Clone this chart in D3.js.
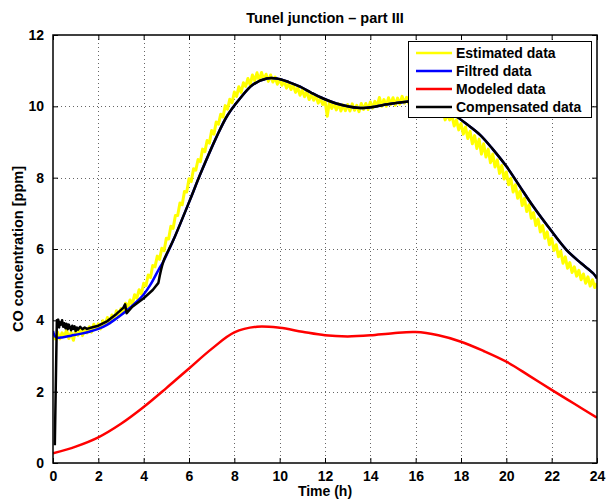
<!DOCTYPE html>
<html>
<head>
<meta charset="utf-8">
<script src="https://cdn.jsdelivr.net/npm/d3@7"></script>
<style>
  html, body { margin: 0; padding: 0; background: #fff; }
  svg { display: block; font-family: "Liberation Sans", Arial, sans-serif; }
</style>
</head>
<body>
<svg id="chart" width="606" height="499"></svg>
<script>
// Estimated CO concentration, sampled every 0.1 h from 0 h to 24 h
const estimatedStep = 0.1;
const estimated = [
  3.60, 3.48, 3.67, 3.48, 3.65, 3.55, 3.73, 3.49, 3.66, 3.44,
  3.73, 3.58, 3.78, 3.57, 3.77, 3.65, 3.82, 3.67, 3.89, 3.76,
  3.90, 3.76, 3.99, 3.88, 4.08, 3.92, 4.15, 4.04, 4.27, 4.10,
  4.33, 4.20, 4.48, 4.36, 4.57, 4.44, 4.72, 4.62, 4.86, 4.74,
  5.04, 4.97, 5.27, 5.20, 5.54, 5.50, 5.80, 5.71, 6.02, 5.95,
  6.30, 6.28, 6.64, 6.58, 6.94, 6.94, 7.29, 7.24, 7.61, 7.60,
  7.97, 7.89, 8.25, 8.21, 8.51, 8.45, 8.80, 8.73, 9.04, 8.97,
  9.32, 9.22, 9.56, 9.50, 9.78, 9.70, 10.02, 9.92, 10.20, 10.10,
  10.40, 10.28, 10.55, 10.39, 10.66, 10.56, 10.78, 10.60, 10.88, 10.72,
  10.94, 10.72, 10.95, 10.75, 10.90, 10.70, 10.88, 10.68, 10.82, 10.62,
  10.76, 10.59, 10.72, 10.51, 10.64, 10.47, 10.60, 10.39, 10.52, 10.31,
  10.46, 10.27, 10.42, 10.19, 10.34, 10.17, 10.30, 10.09, 10.22, 10.05,
  10.16, 9.72, 10.14, 9.94, 10.08, 9.90, 10.07, 9.87, 10.04, 9.88,
  10.05, 9.87, 10.07, 9.89, 10.03, 9.85, 10.08, 9.91, 10.08, 9.91,
  10.12, 9.95, 10.14, 10.00, 10.25, 10.00, 10.19, 10.00, 10.24, 10.05,
  10.24, 10.03, 10.23, 10.06, 10.28, 10.09, 10.25, 10.07, 10.25, 10.05,
  10.23, 10.04, 10.21, 10.01, 10.16, 9.96, 10.11, 9.90, 10.04, 9.81,
  9.96, 9.75, 9.88, 9.62, 9.77, 9.62, 9.74, 9.45, 9.62, 9.34,
  9.52, 9.22, 9.42, 9.10, 9.30, 8.95, 9.18, 8.82, 9.08, 8.66,
  8.95, 8.58, 8.80, 8.42, 8.66, 8.30, 8.50, 8.12, 8.34, 7.96,
  8.16, 7.80, 7.98, 7.60, 7.80, 7.42, 7.62, 7.22, 7.42, 7.05,
  7.24, 6.86, 7.02, 6.66, 6.84, 6.48, 6.66, 6.30, 6.48, 6.12,
  6.30, 5.96, 6.12, 5.78, 5.94, 5.60, 5.78, 5.46, 5.62, 5.34,
  5.50, 5.24, 5.40, 5.14, 5.30, 5.04, 5.22, 4.96, 5.14, 4.92,
  5.04
];

// Filtered data
const filtredHours = [0, 0.05, 0.15, 0.4, 0.8, 1.2, 1.6, 2.0, 2.4, 2.81, 3.2, 3.6, 3.98, 4.3, 4.65, 4.87, 5.31, 6.04, 6.5, 7.22, 7.7, 8.25, 8.8, 9.43, 9.87, 10.4, 10.9, 11.4, 11.92, 12.5, 13.1, 13.69, 14.1, 14.57, 15.1, 15.6, 16.2, 16.8, 17.3, 17.81, 18.3, 18.84, 19.4, 20.01, 20.6, 21.19, 21.9, 22.66, 23.3, 23.83, 24];
const filtred = [3.7, 3.6, 3.52, 3.52, 3.57, 3.62, 3.68, 3.76, 3.88, 4.06, 4.25, 4.47, 4.71, 5.0, 5.41, 5.65, 6.25, 7.37, 8.1, 9.15, 9.75, 10.22, 10.6, 10.78, 10.78, 10.68, 10.55, 10.38, 10.22, 10.08, 9.99, 9.95, 9.98, 10.04, 10.09, 10.13, 10.16, 10.05, 9.9, 9.71, 9.48, 9.2, 8.8, 8.31, 7.75, 7.19, 6.58, 5.97, 5.6, 5.32, 5.18];

// Modeled data
const modeledHours = [0, 1, 2, 3, 4, 5, 6, 7, 8, 9, 10, 11, 12, 13, 14, 15, 16, 17, 18, 19, 20, 21, 22, 23, 24];
const modeled = [0.27, 0.46, 0.72, 1.1, 1.57, 2.1, 2.65, 3.2, 3.66, 3.82, 3.79, 3.68, 3.58, 3.55, 3.58, 3.64, 3.67, 3.58, 3.4, 3.14, 2.84, 2.45, 2.05, 1.66, 1.27];

// Compensated data
const compensatedHours = [0.08, 0.17, 0.2, 0.23, 0.27, 0.3, 0.35, 0.4, 0.45, 0.5, 0.55, 0.6, 0.65, 0.7, 0.75, 0.8, 0.85, 0.9, 0.95, 1.0, 1.05, 1.1, 1.2, 1.3, 1.4, 1.5, 1.7, 2.0, 2.4, 2.8, 3.1, 3.18, 3.25, 3.5, 4.0, 4.4, 4.65, 4.87, 5.31, 6.04, 6.5, 7.22, 7.7, 8.25, 8.8, 9.43, 9.87, 10.4, 10.9, 11.4, 11.92, 12.5, 13.1, 13.69, 14.1, 14.57, 15.1, 15.6, 16.2, 16.8, 17.3, 17.81, 18.3, 18.84, 19.4, 20.01, 20.6, 21.19, 21.9, 22.66, 23.3, 23.83, 24];
const compensated = [0.5, 4.0, 3.85, 4.02, 3.8, 3.95, 3.88, 4.0, 3.82, 3.92, 3.78, 3.9, 3.75, 3.88, 3.8, 3.72, 3.85, 3.76, 3.83, 3.7, 3.8, 3.74, 3.82, 3.75, 3.8, 3.76, 3.8, 3.85, 3.98, 4.18, 4.35, 4.45, 4.2, 4.38, 4.62, 4.85, 5.05, 5.65, 6.25, 7.37, 8.1, 9.15, 9.75, 10.22, 10.6, 10.78, 10.78, 10.68, 10.55, 10.38, 10.22, 10.08, 9.99, 9.95, 9.98, 10.04, 10.09, 10.13, 10.16, 10.05, 9.9, 9.71, 9.48, 9.2, 8.8, 8.31, 7.75, 7.19, 6.58, 5.97, 5.6, 5.32, 5.18];

const xTicks = [0, 2, 4, 6, 8, 10, 12, 14, 16, 18, 20, 22, 24];
const yTicks = [0, 2, 4, 6, 8, 10, 12];
const seriesNames = ["Estimated data", "Filtred data", "Modeled data", "Compensated data"];
const seriesColors = ["#ffff00", "#0000ff", "#ff0000", "#000000"];

const svg = d3.select("#chart");
const margin = { left: 53, right: 9, top: 35, bottom: 36 };
const W = 606, H = 499;
const innerW = W - margin.left - margin.right;
const innerH = H - margin.top - margin.bottom;

const x = d3.scaleLinear().domain([0, 24]).range([margin.left, margin.left + innerW]);
const y = d3.scaleLinear().domain([0, 12]).range([margin.top + innerH, margin.top]);

svg.append("defs").append("clipPath").attr("id", "plotClip")
  .append("rect").attr("x", margin.left).attr("y", margin.top)
  .attr("width", innerW).attr("height", innerH);

// dotted grid
const grid = svg.append("g").attr("stroke", "#666").attr("stroke-width", 1)
  .attr("stroke-dasharray", "1,3");
grid.selectAll("line.vx").data(xTicks.slice(1, -1)).join("line")
  .attr("x1", d => Math.round(x(d)) + 0.5).attr("x2", d => Math.round(x(d)) + 0.5)
  .attr("y1", margin.top).attr("y2", margin.top + innerH);
grid.selectAll("line.hy").data(yTicks.slice(1, -1)).join("line")
  .attr("y1", d => Math.round(y(d)) + 0.5).attr("y2", d => Math.round(y(d)) + 0.5)
  .attr("x1", margin.left).attr("x2", margin.left + innerW);

// axes with inward ticks on all four sides
const tickFont = g => g.selectAll("text")
  .attr("font-family", "Liberation Sans, Arial, sans-serif")
  .attr("font-weight", "bold").attr("font-size", 14).attr("fill", "#000");

const axB = svg.append("g").attr("transform", `translate(0,${margin.top + innerH})`)
  .call(d3.axisBottom(x).tickValues(xTicks).tickSizeInner(-5).tickSizeOuter(0).tickPadding(8));
axB.call(tickFont);
const axT = svg.append("g").attr("transform", `translate(0,${margin.top})`)
  .call(d3.axisTop(x).tickValues(xTicks).tickSizeInner(-5).tickSizeOuter(0).tickFormat(""));
const axL = svg.append("g").attr("transform", `translate(${margin.left},0)`)
  .call(d3.axisLeft(y).tickValues(yTicks).tickSizeInner(-5).tickSizeOuter(0).tickPadding(9));
axL.call(tickFont);
const axR = svg.append("g").attr("transform", `translate(${margin.left + innerW},0)`)
  .call(d3.axisRight(y).tickValues(yTicks).tickSizeInner(-5).tickSizeOuter(0).tickFormat(""));
[axB, axT, axL, axR].forEach(a => {
  a.select(".domain").remove();
  a.selectAll(".tick line").attr("stroke", "#000").attr("stroke-width", 1);
});

// series
const plot = svg.append("g").attr("clip-path", "url(#plotClip)");
const line = d3.line().x(d => x(d[0])).y(d => y(d[1]));
const smooth = d3.line().curve(d3.curveCatmullRom.alpha(0.5)).x(d => x(d[0])).y(d => y(d[1]));

const estPts = estimated.map((v, i) => [i * estimatedStep, v]);
const filPts = filtred.map((v, i) => [filtredHours[i], v]);
const modPts = modeled.map((v, i) => [modeledHours[i], v]);
const comPts = compensated.map((v, i) => [compensatedHours[i], v]);

plot.append("path").attr("d", line(estPts)).attr("fill", "none")
  .attr("stroke", seriesColors[0]).attr("stroke-width", 3).attr("stroke-linejoin", "round");
plot.append("path").attr("d", smooth(filPts)).attr("fill", "none")
  .attr("stroke", seriesColors[1]).attr("stroke-width", 2.5);
plot.append("path").attr("d", smooth(modPts)).attr("fill", "none")
  .attr("stroke", seriesColors[2]).attr("stroke-width", 2.5);
plot.append("path").attr("d", line(comPts.slice(0, 37)) + smooth(comPts.slice(36)).replace(/^M/, "L"))
  .attr("fill", "none").attr("stroke", seriesColors[3]).attr("stroke-width", 2.5)
  .attr("stroke-linejoin", "round");

// frame
svg.append("rect").attr("x", margin.left).attr("y", margin.top)
  .attr("width", innerW).attr("height", innerH)
  .attr("fill", "none").attr("stroke", "#000").attr("stroke-width", 1.5);

// legend
const lg = svg.append("g");
lg.append("rect").attr("x", 408.5).attr("y", 41.5).attr("width", 183).attr("height", 76)
  .attr("fill", "#fff").attr("stroke", "#000").attr("stroke-width", 1);
seriesNames.forEach((name, i) => {
  const yy = 53 + i * 18;
  lg.append("line").attr("x1", 416).attr("x2", 452).attr("y1", yy).attr("y2", yy)
    .attr("stroke", seriesColors[i]).attr("stroke-width", 2.5);
  lg.append("text").attr("x", 456).attr("y", yy).attr("dy", "0.36em")
    .attr("font-weight", "bold").attr("font-size", 14).text(name);
});

// titles
svg.append("text").attr("x", margin.left + innerW / 2).attr("y", 23)
  .attr("text-anchor", "middle").attr("font-weight", "bold").attr("font-size", 14.5)
  .text("Tunel junction – part III");
svg.append("text").attr("x", margin.left + innerW / 2).attr("y", 496)
  .attr("text-anchor", "middle").attr("font-weight", "bold").attr("font-size", 14)
  .text("Time (h)");
svg.append("text").attr("transform", `translate(23,${margin.top + innerH / 2}) rotate(-90)`)
  .attr("text-anchor", "middle").attr("font-weight", "bold").attr("font-size", 14.5)
  .text("CO concentration [ppm]");
</script>
</body>
</html>
